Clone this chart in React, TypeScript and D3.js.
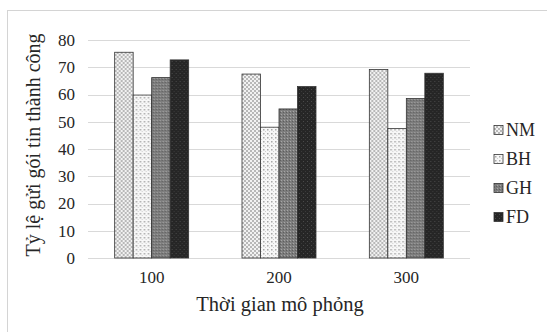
import React, {useEffect, useRef} from "react";
import * as d3 from "d3";

const categories = ["100", "200", "300"]
const seriesNames = ["NM", "BH", "GH", "FD"]
const nmValues = [75.5, 67.5, 69.2]
const bhValues = [59.8, 48, 47.5]
const ghValues = [66.2, 54.7, 58.5]
const fdValues = [72.7, 62.9, 67.8]
const yTicks = [0, 10, 20, 30, 40, 50, 60, 70, 80]

const W = 547
const H = 332

const App = () => {
    const svgRef = useRef(null)

    useEffect(() => {
        const svg = d3.select(svgRef.current)
        svg.selectAll("*").remove()

        const series = [nmValues, bhValues, ghValues, fdValues]
        const left = 88, right = 470, top = 40, bottom = 258
        const font = "'Liberation Serif', 'Times New Roman', serif"

        const defs = svg.append("defs")
        // NM: checker dots
        const pNM = defs.append("pattern").attr("id", "pNM").attr("patternUnits", "userSpaceOnUse")
            .attr("width", 4).attr("height", 4)
        pNM.append("rect").attr("width", 4).attr("height", 4).attr("fill", "#b8b8b8")
        pNM.append("rect").attr("x", 0).attr("y", 0).attr("width", 2).attr("height", 2).attr("fill", "#f2f2f2")
        pNM.append("rect").attr("x", 2).attr("y", 2).attr("width", 2).attr("height", 2).attr("fill", "#f2f2f2")
        // BH: sparse dots on white
        const pBH = defs.append("pattern").attr("id", "pBH").attr("patternUnits", "userSpaceOnUse")
            .attr("width", 4).attr("height", 4)
        pBH.append("rect").attr("width", 4).attr("height", 4).attr("fill", "#f7f7f7")
        pBH.append("rect").attr("x", 1).attr("y", 1).attr("width", 1.5).attr("height", 1.5).attr("fill", "#a8a8a8")
        pBH.append("rect").attr("x", 3).attr("y", 3).attr("width", 1).attr("height", 1).attr("fill", "#cfcfcf")
        // GH: medium gray fine
        const pGH = defs.append("pattern").attr("id", "pGH").attr("patternUnits", "userSpaceOnUse")
            .attr("width", 3).attr("height", 3)
        pGH.append("rect").attr("width", 3).attr("height", 3).attr("fill", "#7d7d7d")
        pGH.append("rect").attr("x", 0).attr("y", 0).attr("width", 1).attr("height", 1).attr("fill", "#a6a6a6")
        pGH.append("rect").attr("x", 2).attr("y", 1).attr("width", 1).attr("height", 1).attr("fill", "#5e5e5e")
        // FD: dark with dots
        const pFD = defs.append("pattern").attr("id", "pFD").attr("patternUnits", "userSpaceOnUse")
            .attr("width", 4).attr("height", 4)
        pFD.append("rect").attr("width", 4).attr("height", 4).attr("fill", "#262626")
        pFD.append("rect").attr("x", 1).attr("y", 1).attr("width", 1).attr("height", 1).attr("fill", "#4a4a4a")
        pFD.append("rect").attr("x", 3).attr("y", 3).attr("width", 1).attr("height", 1).attr("fill", "#3a3a3a")

        const fills = ["url(#pNM)", "url(#pBH)", "url(#pGH)", "url(#pFD)"]

        svg.append("rect").attr("width", W).attr("height", H).attr("fill", "#fff")
        // border (only top and left are visible in the crop)
        svg.append("rect").attr("x", 7.5).attr("y", 10.5).attr("width", W + 10).attr("height", H + 10)
            .attr("fill", "none").attr("stroke", "#d4d4d4")

        const x = d3.scaleBand().domain(categories).range([left, right]).paddingInner(0).paddingOuter(0)
        const inner = d3.scaleBand().domain(seriesNames).range([0, 74]).padding(0)
        const y = d3.scaleLinear().domain([0, 80]).range([bottom, top])

        // gridlines
        svg.append("g").selectAll("line").data(yTicks).join("line")
            .attr("x1", left).attr("x2", right)
            .attr("y1", d => Math.round(y(d)) + 0.5).attr("y2", d => Math.round(y(d)) + 0.5)
            .attr("stroke", "#d9d9d9").attr("stroke-width", 1)

        // y tick labels
        svg.append("g").selectAll("text").data(yTicks).join("text")
            .attr("x", 75).attr("y", d => y(d)).attr("dy", "0.35em")
            .attr("text-anchor", "end").attr("font-family", font).attr("font-size", 17)
            .attr("fill", "#262626").text(d => d)

        // bars
        const groups = svg.append("g").selectAll("g").data(categories).join("g")
            .attr("transform", c => `translate(${x(c)! + (x.bandwidth() - 74) / 2},0)`)
        groups.selectAll("rect").data((c, i) => series.map((s, k) => ({k, v: s[i]}))).join("rect")
            .attr("x", d => inner(seriesNames[d.k])!)
            .attr("y", d => y(d.v))
            .attr("width", inner.bandwidth())
            .attr("height", d => y(0) - y(d.v))
            .attr("fill", d => fills[d.k])
            .attr("stroke", "#333").attr("stroke-width", 0.8)

        // x labels
        svg.append("g").selectAll("text").data(categories).join("text")
            .attr("x", c => x(c)! + x.bandwidth() / 2).attr("y", 283)
            .attr("text-anchor", "middle").attr("font-family", font).attr("font-size", 17)
            .attr("fill", "#262626").text(c => c)

        // axis titles
        svg.append("text").attr("x", 280).attr("y", 311)
            .attr("text-anchor", "middle").attr("font-family", font).attr("font-size", 20.5)
            .attr("fill", "#262626").text("Thời gian mô phỏng")
        svg.append("text").attr("transform", "translate(40,145) rotate(-90)")
            .attr("text-anchor", "middle").attr("font-family", font).attr("font-size", 20)
            .attr("fill", "#262626").text("Tỷ lệ gửi gói tin thành công")

        // legend
        const legend = svg.append("g").selectAll("g").data(seriesNames).join("g")
            .attr("transform", (d, i) => `translate(494,${130 + i * 29})`)
        legend.append("rect").attr("x", 0).attr("y", -4.5).attr("width", 9).attr("height", 9)
            .attr("fill", (d, i) => fills[i]).attr("stroke", "#333").attr("stroke-width", 0.8)
        legend.append("text").attr("x", 12).attr("y", 0).attr("dy", "0.35em")
            .attr("font-family", font).attr("font-size", 18).attr("fill", "#262626").text(d => d)
    }, [])

    return (
        <svg ref={svgRef} width={W} height={H}
             style={{position: "absolute", left: 0, top: 0, display: "block"}}/>
    );
};

export default App;
